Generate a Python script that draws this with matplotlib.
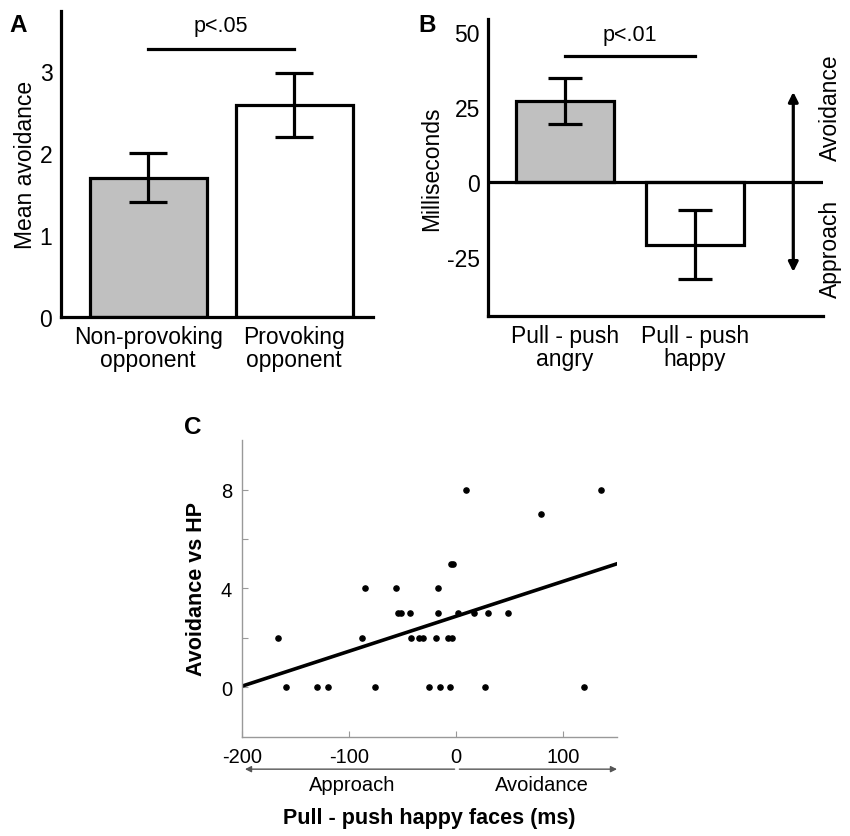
import matplotlib
matplotlib.use('Agg')
import matplotlib.pyplot as plt
import numpy as np

plt.rcParams['font.family'] = ['Liberation Sans', 'DejaVu Sans']
plt.rcParams['axes.unicode_minus'] = False

# panel A
a_labels = ['Non-provoking\nopponent', 'Provoking\nopponent']
a_means = [1.70, 2.58]
a_err = [0.30, 0.39]
a_colors = ['#c0c0c0', 'white']

# panel B
b_labels = ['Pull - push\nangry', 'Pull - push\nhappy']
b_means = [27.0, -21.0]
b_err = [7.7, 11.5]

# panel C
c_x = [-166, -159, -130, -120, -88, -85, -76, -56, -54.5, -51.5, -43, -42,
       -34.5, -31, -25.5, -19, -17, -17, -15.5, -7.5, -5.5, -5, -3, -3.5,
       2, 9.5, 17, 26.5, 30, 48.5, 79, 119, 135.5]
c_y = [2, 0, 0, 0, 2, 4, 0, 4, 3, 3, 3, 2,
       2, 2, 0, 2, 4, 3, 0, 2, 0, 5, 5, 2,
       3, 8, 3, 0, 3, 3, 7, 0, 8]
fit_x = [-200, 150]
fit_y = [0.05, 5.0]

ftsize = 16.5
lw = 2.3

fig = plt.figure(figsize=(8.5, 8.37), dpi=100)

# ---- A ----
ax = fig.add_axes([0.0714, 0.6201, 0.3674, 0.3656])
x = np.arange(len(a_means))
ax.bar(x, a_means, width=0.8, color=a_colors, edgecolor='black', linewidth=lw, zorder=2)
ax.errorbar(x, a_means, yerr=a_err, fmt='none', ecolor='black', elinewidth=lw,
            capsize=14, capthick=lw, zorder=3)
ax.set_xlim(-0.6, 1.54)
ax.set_ylim(0, 3.73)
ax.set_yticks([0, 1, 2, 3])
ax.set_xticks(x)
ax.set_xticklabels(a_labels, fontsize=ftsize, linespacing=1.0)
ax.tick_params(axis='both', length=0, labelsize=ftsize, pad=6)
ax.set_ylabel('Mean avoidance', fontsize=ftsize, labelpad=2)
for s in ['top', 'right']:
    ax.spines[s].set_visible(False)
for s in ['left', 'bottom']:
    ax.spines[s].set_linewidth(lw)
ax.plot([0, 1], [3.27, 3.27], color='black', lw=lw, clip_on=False)
ax.text(0.5, 3.42, 'p<.05', ha='center', va='bottom', fontsize=ftsize - 1)
fig.text(18 / 850, 1 - 25 / 837, 'A', fontsize=ftsize + 1, fontweight='bold', ha='center', va='center')

# ---- B ----
ax1 = fig.add_axes([0.5745, 0.6216, 0.3938, 0.3545])
xb = np.arange(len(b_means))
ax1.bar(xb, b_means, width=0.756, color=a_colors, edgecolor='black', linewidth=lw, zorder=2)
ax1.errorbar(xb, b_means, yerr=b_err, fmt='none', ecolor='black', elinewidth=lw,
             capsize=12, capthick=lw, zorder=3)
ax1.axhline(0, color='black', lw=lw, zorder=4)
ax1.set_xlim(-0.59, 1.985)
ax1.set_ylim(-44.6, 54.3)
ax1.set_yticks([-25, 0, 25, 50])
ax1.set_xticks(xb)
ax1.set_xticklabels(b_labels, fontsize=ftsize, linespacing=1.0)
ax1.tick_params(axis='both', length=0, labelsize=ftsize, pad=6)
ax1.set_ylabel('Milliseconds', fontsize=ftsize, labelpad=3)
for s in ['top', 'right']:
    ax1.spines[s].set_visible(False)
for s in ['left', 'bottom']:
    ax1.spines[s].set_linewidth(lw)
ax1.plot([0, 1], [42, 42], color='black', lw=lw)
ax1.text(0.5, 45.5, 'p<.01', ha='center', va='bottom', fontsize=ftsize - 1)
ax1.annotate('', xy=(1.756, 30), xytext=(1.756, -30),
             arrowprops=dict(arrowstyle='<|-|>', color='black', lw=lw,
                             mutation_scale=14, shrinkA=0, shrinkB=0))
ax1.text(2.04, 25, 'Avoidance', rotation=90, ha='center', va='center',
         fontsize=ftsize, clip_on=False)
ax1.text(2.04, -22, 'Approach', rotation=90, ha='center', va='center',
         fontsize=ftsize, clip_on=False)
fig.text(427 / 850, 1 - 25 / 837, 'B', fontsize=ftsize + 1, fontweight='bold', ha='center', va='center')

# ---- C ----
ax2 = fig.add_axes([0.2844, 0.1183, 0.4415, 0.3548])
ax2.scatter(c_x, c_y, s=14, color='black', zorder=3)
ax2.plot(fit_x, fit_y, color='black', lw=lw + 0.3, zorder=2)
ax2.set_xlim(-200, 150)
ax2.set_ylim(-2, 10)
ax2.set_xticks([-200, -100, 0, 100])
ax2.set_yticks([0, 2, 4, 6, 8])
ax2.set_yticklabels(['0', '', '4', '', '8'])
ax2.tick_params(axis='both', direction='in', length=4, color='#999999',
                labelsize=14.5, pad=7)
for s in ['top', 'right']:
    ax2.spines[s].set_visible(False)
for s in ['left', 'bottom']:
    ax2.spines[s].set_color('#999999')
    ax2.spines[s].set_linewidth(1.0)
ax2.set_ylabel('Avoidance vs HP', fontsize=15.5, fontweight='bold', labelpad=10)
ax2.set_xlabel('Pull - push happy faces (ms)', fontsize=15.5, fontweight='bold', labelpad=30)
ax2.annotate('', xy=(-197, -3.3), xytext=(-1.5, -3.3), annotation_clip=False,
             arrowprops=dict(arrowstyle='-|>', color='#555555', lw=1.0,
                             mutation_scale=9, shrinkA=0, shrinkB=0))
ax2.annotate('', xy=(150, -3.3), xytext=(3, -3.3), annotation_clip=False,
             arrowprops=dict(arrowstyle='-|>', color='#555555', lw=1.0,
                             mutation_scale=9, shrinkA=0, shrinkB=0))
ax2.text(-97, -3.9, 'Approach', ha='center', va='center', fontsize=14.5, clip_on=False)
ax2.text(80, -3.9, 'Avoidance', ha='center', va='center', fontsize=14.5, clip_on=False)
fig.text(193 / 850, 1 - 428 / 837, 'C', fontsize=ftsize + 1, fontweight='bold', ha='center', va='center')

fig.savefig('out.png', dpi=100)
